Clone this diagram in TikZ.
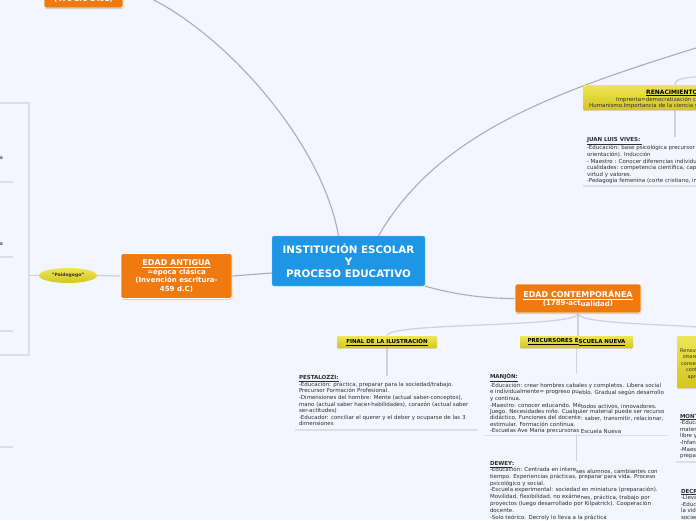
\documentclass[tikz,border=0pt]{standalone}
\usepackage{fontspec}
\setmainfont{DejaVu Sans}
\usetikzlibrary{shapes.geometric,shadows}
\definecolor{bg}{RGB}{243,246,254}
\definecolor{blueC}{RGB}{30,150,230}
\definecolor{orangeC}{RGB}{238,122,16}
\definecolor{yelT}{RGB}{238,230,86}
\definecolor{yelB}{RGB}{212,198,30}
\definecolor{lineMain}{RGB}{172,172,180}
\definecolor{lineSub}{RGB}{206,210,220}
\definecolor{sepC}{RGB}{218,222,232}
\definecolor{txt}{RGB}{45,45,45}
\newcommand{\lowtx}[1]{\raisebox{-1.1pt}{#1}}
\pgfdeclarelayer{back}
\pgfdeclarelayer{edges}
\pgfsetlayers{back,edges,main}
\begin{document}
\begin{tikzpicture}[x=1pt,y=-1pt,
 central/.style={draw=blueC!60!white, fill=blueC, rounded corners=2pt, text=white,
   font=\bfseries\fontsize{10.3}{12}\selectfont, align=center, inner sep=0pt,
   minimum width=153pt, minimum height=50pt},
 era/.style={draw=white, line width=0.8pt, fill=orangeC, rounded corners=1.5pt, text=white,
   font=\bfseries\fontsize{7}{8.3}\selectfont, align=center, inner sep=0pt,
   drop shadow={shadow xshift=0.3pt, shadow yshift=-1.2pt, opacity=0.35, fill=black!60}},
 ybox/.style={top color=yelT, bottom color=yelB, rounded corners=1pt, inner sep=0pt,
   text=black, font=\bfseries\fontsize{5.5}{6.6}\selectfont,
   drop shadow={shadow xshift=0pt, shadow yshift=-0.8pt, opacity=0.25, fill=black!50}},
 paidstyle/.style={ellipse, top color=yelT, bottom color=yelB, inner sep=0pt,
   minimum width=58pt, minimum height=15pt, text=black!80,
   font=\bfseries\fontsize{4.5}{5}\selectfont},
 tblock/.style={anchor=north west, align=left, inner sep=0pt, outer sep=0pt, text=txt,
   fill=bg, font=\fontsize{5.5}{6.6}\selectfont},
 tline/.style={anchor=base west, inner sep=0pt, text=txt, font=\fontsize{5.5}{6.6}\selectfont},
 mainln/.style={draw=lineMain, line width=1.1pt},
 subln/.style={draw=lineSub, line width=1.3pt},
 sep/.style={draw=sepC, line width=1.3pt}
]
\useasboundingbox (0,0) rectangle (696,520);
\begin{pgfonlayer}{back}
\fill[bg] (0,0) rectangle (696,520);
\end{pgfonlayer}

% ---------- main nodes ----------
\node[central] (c) at (348.5,261) {INSTITUCIÓN ESCOLAR\\Y\\PROCESO EDUCATIVO};

\node[era, minimum width=79pt, minimum height=40pt] (med) at (83.5,-12) {};
\node[anchor=base, inner sep=0pt, text=white, font=\bfseries\fontsize{7}{8.5}\selectfont] (medt) at (83.5,1) {(476 d.C-1492)};

\node[era, minimum width=111pt, minimum height=45pt] (ant) at (176.5,276)
  {{\fontsize{8}{9}\selectfont\underline{EDAD ANTIGUA}}\\[0.6pt]=época clásica\\(Invención escritura-\\459 d.C)};
\node[paidstyle] (paid) at (68,275.5) {"Paidogogo"};
\coordinate (brk) at (29,275.5);

\node[era, minimum width=126pt, minimum height=29pt] (cont) at (578,298.5)
  {{\fontsize{8}{9}\selectfont\underline{EDAD CONTEMPORÁNEA}}\\(1789-act\lowtx{ualidad})};

% ---------- renacimiento ----------
\node[ybox, minimum width=184pt, minimum height=25pt] (ren) at (675,97.5) {};
\node[tline, font=\bfseries\fontsize{6}{7}\selectfont, text=black] (rent1) at (646,94) {\underline{RENACIMIENTO}};
\node[tline] (rent2) at (616,101) {Imprenta=democratización cultural.};
\node[tline] (rent3) at (589,107.5) {Humanismo.Importancia de la ciencia y el hombre};
\coordinate (modern) at (712,43);
\coordinate (modtop) at (720,76);

\node[tblock] (viv) at (587,137.3) {\underline{\textbf{JUAN LUIS VIVES:\ }}\\
-Educación: base psicológica precursor de la psicología (observación,\\
orientación). Inducción\\
- Maestro : Conocer diferencias individuales de los alumnos y\\
cualidades: competencia científica, capacidad pedagógica,\\
virtud y valores.\\
-Pedagogía femenina (corte cristiano, inferior al hombre)};

% ---------- contemporanea children ----------
\node[ybox, minimum width=100pt, minimum height=12pt] (fin) at (387,342) {\underline{FINAL DE LA ILUSTRACIÓN}};
\node[ybox, minimum width=113pt, minimum height=12pt] (pre) at (576.5,342) {\underline{PRECURSORES E}\lowtx{\underline{SCUELA NUEVA}}};
\node[ybox, anchor=north west, minimum width=130pt, minimum height=52pt] (ren2) at (677,336) {};
\node[tline, font=\fontsize{5}{6}\selectfont] (r2a) at (680,352) {Renovación pedagógica,};
\node[tline, font=\fontsize{5}{6}\selectfont] (r2b) at (682.7,358.5) {intereses del niño};
\node[tline, font=\fontsize{5}{6}\selectfont] (r2c) at (681,365) {conseguir aprendizaje};
\node[tline, font=\fontsize{5}{6}\selectfont] (r2d) at (686,371.5) {continuo y};
\node[tline, font=\fontsize{5}{6}\selectfont] (r2e) at (687.3,378) {aprendizaje};

\node[tblock] (pes) at (299,375.7) {\underline{\textbf{PESTALOZZI:}}\\
-Educación: práctica, preparar para la sociedad/trabajo.\\
Precursor Formación Profesional.\\
-Dimensiones del hombre: Mente (actual saber-conceptos),\\
mano (actual saber hacer-habilidades), corazón (actual saber\\
ser-actitudes)\\
-Educador: conciliar el querer y el deber y ocuparse de las 3\\
dimensiones};

\node[tblock, font=\fontsize{5.5}{6.3}\selectfont] (man) at (490,373.5) {\underline{\textbf{MANJÓN:}}\\
-Educación: crear hombres cabales y completos. Libera social\\
e individualmente= progreso pu\lowtx{eblo. Gradual según desarrollo}\\
y continua.\\
-Maestro: conocer educando. Mé\lowtx{todos activos, innovadores.}\\
Juego. Necesidades niño. Cualquier material puede ser recurso\\
didáctico. Funciones del docente\lowtx{: saber, transmitir, relacionar,}\\
estimular. Formación continua.\\
-Escuelas Ave María precursoras \lowtx{Escuela Nueva}};

\node[tblock] (dew) at (490,461.3) {\underline{\textbf{DEWEY}}\textbf{:}\\
-Educación: Centrada en intere\lowtx{ses alumnos, cambiantes con}\\
tiempo. Experiencias prácticas, preparar para vida. Proceso\\
psicológico y social.\\
-Escuela experimental: sociedad en miniatura (preparación).\\
Movilidad, flexibilidad, no exáme\lowtx{nes, práctica, trabajo por}\\
proyectos (luego desarrollado por Kilpatrick). Cooperación\\
docente.\\
-Solo teórico. Decroly lo lleva a la práctica};

\node[tblock] (mon) at (680,414) {\underline{\textbf{MONTESSORI:}}\\
-Educación: sensorial, autoeducación\\
materiales didácticos. Ambiente\\
libre y ordenado.\\
-Infancia: periodo sensible\\
-Maestro: guía, observador,\\
preparado};

\node[tblock] (dec) at (681,489) {\underline{\textbf{DECROLY:}}\\
-Lleva a la práctica a Dewey\\
-Educación: para la vida y por\\
la vida. Centros de interés\\
sociedad};

% left cut-off fragments
\node[anchor=base east, inner sep=0pt, text=txt, font=\fontsize{5.5}{6.6}\selectfont] (fa) at (3.2,159) {a};
\node[anchor=base east, inner sep=0pt, text=txt, font=\fontsize{5.5}{6.6}\selectfont] (fb) at (3.2,245.5) {a};

% ---------- separators ----------
\begin{pgfonlayer}{edges}
\draw[sep] (0,103) -- (29,103) -- (29,355) -- (0,355);
\draw[sep] (0,182) -- (13,182);
\draw[sep] (0,257) -- (13,257);
\draw[sep] (0,331) -- (13,331);
\draw[sep] (0,447) -- (13,447);
\draw[sep] (583,186) -- (700,186);
\draw[sep] (295,430) -- (478,430);
\draw[sep] (485,435.5) -- (668,435.5);
\draw[sep] (676,462) -- (700,462);
\end{pgfonlayer}

% ---------- connectors ----------
\begin{pgfonlayer}{edges}
\draw[mainln] ([xshift=-10pt]c.north) .. controls (320,130) and (200,8) .. (med.east);
\draw[mainln] ([xshift=30pt]c.north) .. controls (440,130) and (560,90) .. (modern);
\draw[mainln] (ant.east) -- (c.west |- 0,273);
\draw[subln] (paid.east) -- (ant.west);
\draw[subln] (paid.west) -- (brk);
\draw[mainln] (c.south east) .. controls (460,296) and (490,298.5) .. (cont.west);
\draw[subln] (ren.north) .. controls (675,78) and (684,77) .. (modtop);
\draw[subln] (ren.south) -- (ren.south |- viv.north);
\draw[subln] (cont.south) .. controls (578,328) and (387,322) .. (fin.north);
\draw[subln] (cont.south) -- (cont.south |- pre.north);
\draw[subln] (cont.south) .. controls (578,328) and (742,322) .. (ren2.north);
\draw[subln] (fin.south) -- (fin.south |- pes.north);
\draw[subln] (pre.south) -- (pre.south |- dew.north);
\end{pgfonlayer}
\end{tikzpicture}
\end{document}
